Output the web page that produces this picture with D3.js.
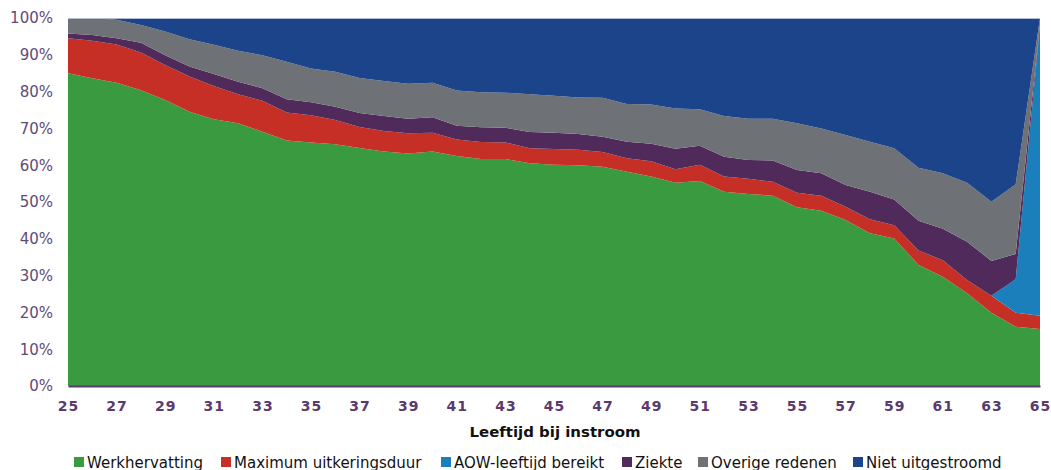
<!DOCTYPE html>
<html>
<head>
<meta charset="utf-8">
<script src="https://cdn.jsdelivr.net/npm/d3@7"></script>
<style>
  body { margin: 0; background: #fff; }
  svg { display: block; font-family: "DejaVu Sans", Verdana, sans-serif; }
</style>
</head>
<body>
<script>
// leeftijd bij instroom
var ages = d3.range(25, 66);

// shares per reason (%)
var werkhervatting = [85.0, 83.6, 82.4, 80.4, 77.7, 74.5, 72.5, 71.4, 69.1, 66.7, 66.2, 65.7, 64.7, 63.7, 63.2, 63.7, 62.5, 61.7, 61.7, 60.5, 60.1, 60.0, 59.6, 58.2, 56.9, 55.2, 55.7, 52.8, 52.2, 51.7, 48.6, 47.6, 45.1, 41.5, 40.1, 32.9, 29.7, 25.2, 19.9, 16.1, 15.5];
var maxDuur = [9.5, 10.2, 10.4, 10.2, 9.5, 9.6, 9.0, 7.9, 8.4, 7.6, 7.4, 6.6, 5.7, 5.6, 5.5, 5.1, 4.5, 4.6, 4.5, 4.1, 4.3, 4.2, 4.0, 3.7, 4.2, 3.7, 4.4, 4.1, 4.1, 3.8, 3.9, 4.1, 3.6, 3.8, 3.6, 3.9, 4.5, 3.6, 4.6, 3.8, 3.6];
var aow = [0, 0, 0, 0, 0, 0, 0, 0, 0, 0, 0, 0, 0, 0, 0, 0, 0, 0, 0, 0, 0, 0, 0, 0, 0, 0, 0, 0, 0, 0, 0, 0, 0, 0, 0, 0, 0, 0, 0, 9.1, 78.9];
var ziekte = [1.3, 1.6, 1.7, 2.7, 2.7, 2.7, 3.3, 3.4, 3.4, 3.6, 3.5, 3.6, 3.8, 4.1, 3.9, 4.2, 3.7, 4.0, 4.0, 4.4, 4.4, 4.3, 4.1, 4.5, 4.7, 5.6, 5.2, 5.4, 5.1, 5.8, 6.2, 6.1, 5.9, 7.5, 7.0, 8.1, 8.5, 10.4, 9.5, 6.9, 0.5];
var overige = [4.2, 4.6, 5.0, 4.8, 6.4, 7.4, 7.9, 8.4, 9.0, 10.2, 9.2, 9.5, 9.5, 9.5, 9.5, 9.4, 9.6, 9.5, 9.5, 10.3, 10.1, 9.9, 10.6, 10.2, 10.7, 10.9, 9.9, 11.1, 11.2, 11.3, 12.7, 12.2, 13.6, 13.6, 13.9, 14.4, 15.1, 16.0, 16.1, 18.9, 1.5];
var nietUit = [0, 0, 0.5, 1.9, 3.7, 5.8, 7.3, 8.9, 10.1, 11.9, 13.7, 14.6, 16.3, 17.1, 17.9, 17.6, 19.7, 20.2, 20.3, 20.7, 21.1, 21.6, 21.7, 23.4, 23.5, 24.6, 24.8, 26.6, 27.4, 27.4, 28.6, 30.0, 31.8, 33.6, 35.4, 40.7, 42.2, 44.8, 49.9, 45.2, 0];

var seriesNames = ["Werkhervatting", "Maximum uitkeringsduur", "AOW-leeftijd bereikt", "Ziekte", "Overige redenen", "Niet uitgestroomd"];
var seriesData = [werkhervatting, maxDuur, aow, ziekte, overige, nietUit];
var colors = ["#3a9a40", "#c62f26", "#1b7fbb", "#4f2a5b", "#6e7175", "#1c448a"];
var yTicks = [0, 10, 20, 30, 40, 50, 60, 70, 80, 90, 100];
var xTicks = d3.range(25, 66, 2);

var w = 1051;
var h = 470;
var margin = { top: 18, right: 11, bottom: 84, left: 68 };

// build rows for the stack
var rows = ages.map(function(a, i) {
  var r = { age: a };
  seriesNames.forEach(function(name, j) { r[name] = seriesData[j][i]; });
  return r;
});

var stack = d3.stack().keys(seriesNames);
var layers = stack(rows);

var xScale = d3.scaleLinear()
  .domain([25, 65])
  .range([margin.left, w - margin.right]);

var yScale = d3.scaleLinear()
  .domain([0, 100])
  .range([h - margin.bottom, margin.top]);

var svg = d3.select("body")
  .append("svg")
  .attr("width", w)
  .attr("height", h);

var area = d3.area()
  .x(function(d) { return xScale(d.data.age); })
  .y0(function(d) { return yScale(d[0]); })
  .y1(function(d) { return yScale(Math.min(d[1], 100)); });

svg.selectAll("path.layer")
  .data(layers)
  .enter()
  .append("path")
  .attr("class", "layer")
  .attr("d", area)
  .attr("fill", function(d, i) { return colors[i]; });

// top border of plot area
svg.append("line")
  .attr("x1", xScale(25))
  .attr("x2", xScale(65))
  .attr("y1", yScale(100) + 0.5)
  .attr("y2", yScale(100) + 0.5)
  .attr("stroke", "#b4bdd6")
  .attr("stroke-width", 1);

// y axis
var yAxis = d3.axisLeft(yScale)
  .tickValues(yTicks)
  .tickSize(0)
  .tickPadding(15)
  .tickFormat(function(d) { return d + "%"; });

var gy = svg.append("g")
  .attr("transform", "translate(" + margin.left + ",0)")
  .call(yAxis);
gy.select(".domain").remove();
gy.selectAll("text")
  .attr("font-family", "'DejaVu Sans', sans-serif")
  .attr("font-size", "15px")
  .attr("fill", "#5e4b78");

// x axis
var xAxis = d3.axisBottom(xScale)
  .tickValues(xTicks)
  .tickSize(0)
  .tickPadding(15);

var gx = svg.append("g")
  .attr("transform", "translate(0," + (h - margin.bottom) + ")")
  .call(xAxis);
gx.select(".domain")
  .attr("stroke", "#5a3a6e")
  .attr("stroke-width", 2);
gx.selectAll("text")
  .attr("font-family", "'DejaVu Sans', sans-serif")
  .attr("font-size", "14px")
  .attr("font-weight", "bold")
  .attr("letter-spacing", "1px")
  .attr("fill", "#5a3a6e");

// axis title
svg.append("text")
  .attr("x", 555)
  .attr("y", 437)
  .attr("text-anchor", "middle")
  .attr("font-size", "14px")
  .attr("font-weight", "bold")
  .attr("fill", "#111")
  .attr("textLength", 171)
  .attr("lengthAdjust", "spacingAndGlyphs")
  .text("Leeftijd bij instroom");

// legend
var legendX = [74, 221, 441, 622, 698, 853];
var legend = svg.selectAll("g.legend")
  .data(seriesNames)
  .enter()
  .append("g")
  .attr("class", "legend")
  .attr("transform", function(d, i) { return "translate(" + legendX[i] + ",457)"; });

legend.append("rect")
  .attr("width", 10)
  .attr("height", 10)
  .attr("fill", function(d, i) { return colors[i]; });

legend.append("text")
  .attr("x", 13)
  .attr("y", 10.5)
  .attr("font-size", "15px")
  .attr("fill", "#111")
  .text(function(d) { return d; });
</script>
</body>
</html>
